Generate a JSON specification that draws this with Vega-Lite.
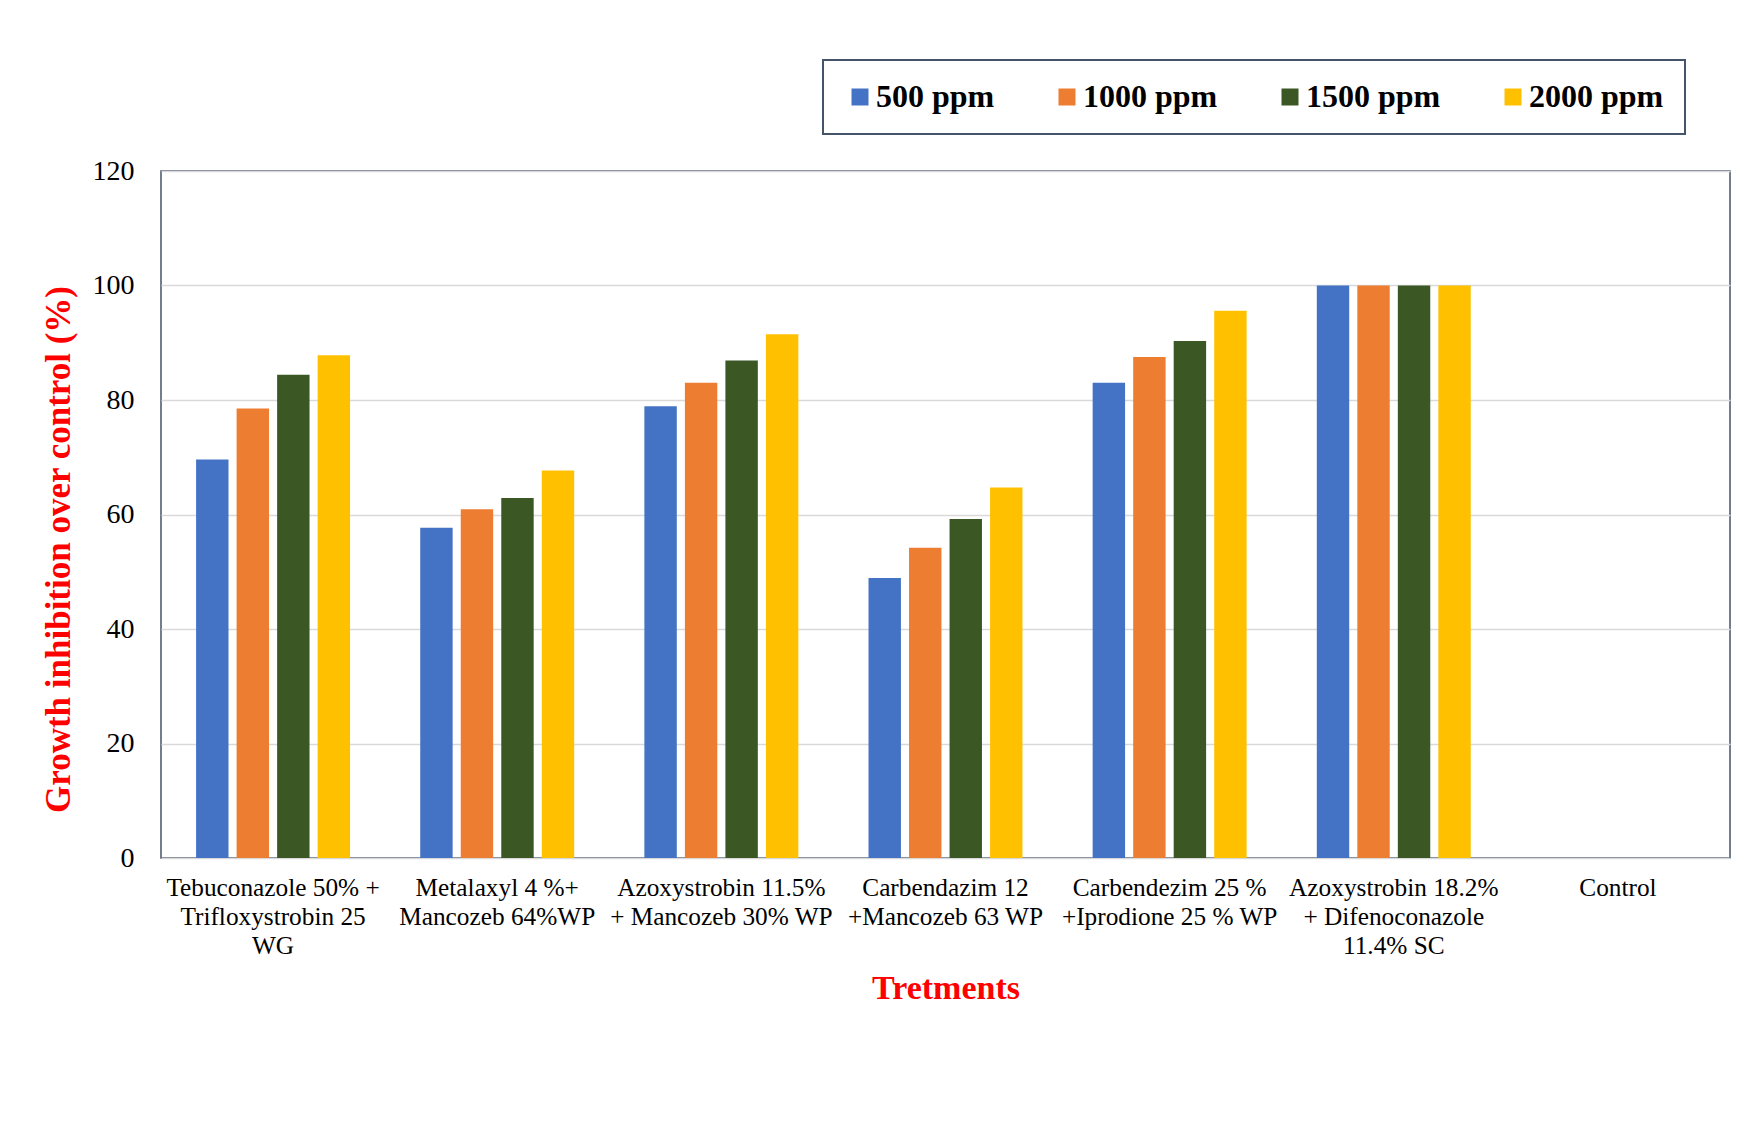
{
  "$schema": "https://vega.github.io/schema/vega-lite/v6.json",
  "autosize": {"type": "none"},
  "width": 1569,
  "height": 687,
  "padding": {"left": 161, "top": 171, "right": 26, "bottom": 274},
  "background": "white",
  "config": {
    "font": "Liberation Serif",
    "view": {"stroke": "#44546A", "strokeWidth": 1.5}
  },
  "data": {
    "values": [
      {"treatment": "Tebuconazole 50% +\nTrifloxystrobin 25\nWG", "dose": "500 ppm", "inhibition": 69.6},
      {"treatment": "Tebuconazole 50% +\nTrifloxystrobin 25\nWG", "dose": "1000 ppm", "inhibition": 78.5},
      {"treatment": "Tebuconazole 50% +\nTrifloxystrobin 25\nWG", "dose": "1500 ppm", "inhibition": 84.4},
      {"treatment": "Tebuconazole 50% +\nTrifloxystrobin 25\nWG", "dose": "2000 ppm", "inhibition": 87.8},
      {"treatment": "Metalaxyl 4 %+\nMancozeb 64%WP", "dose": "500 ppm", "inhibition": 57.7},
      {"treatment": "Metalaxyl 4 %+\nMancozeb 64%WP", "dose": "1000 ppm", "inhibition": 60.9},
      {"treatment": "Metalaxyl 4 %+\nMancozeb 64%WP", "dose": "1500 ppm", "inhibition": 62.9},
      {"treatment": "Metalaxyl 4 %+\nMancozeb 64%WP", "dose": "2000 ppm", "inhibition": 67.7},
      {"treatment": "Azoxystrobin 11.5%\n+ Mancozeb 30% WP", "dose": "500 ppm", "inhibition": 78.9},
      {"treatment": "Azoxystrobin 11.5%\n+ Mancozeb 30% WP", "dose": "1000 ppm", "inhibition": 83.0},
      {"treatment": "Azoxystrobin 11.5%\n+ Mancozeb 30% WP", "dose": "1500 ppm", "inhibition": 86.9},
      {"treatment": "Azoxystrobin 11.5%\n+ Mancozeb 30% WP", "dose": "2000 ppm", "inhibition": 91.5},
      {"treatment": "Carbendazim 12\n+Mancozeb 63 WP", "dose": "500 ppm", "inhibition": 48.9},
      {"treatment": "Carbendazim 12\n+Mancozeb 63 WP", "dose": "1000 ppm", "inhibition": 54.2},
      {"treatment": "Carbendazim 12\n+Mancozeb 63 WP", "dose": "1500 ppm", "inhibition": 59.2},
      {"treatment": "Carbendazim 12\n+Mancozeb 63 WP", "dose": "2000 ppm", "inhibition": 64.7},
      {"treatment": "Carbendezim 25 %\n+Iprodione 25 % WP", "dose": "500 ppm", "inhibition": 83.0},
      {"treatment": "Carbendezim 25 %\n+Iprodione 25 % WP", "dose": "1000 ppm", "inhibition": 87.5},
      {"treatment": "Carbendezim 25 %\n+Iprodione 25 % WP", "dose": "1500 ppm", "inhibition": 90.3},
      {"treatment": "Carbendezim 25 %\n+Iprodione 25 % WP", "dose": "2000 ppm", "inhibition": 95.6},
      {"treatment": "Azoxystrobin 18.2%\n+ Difenoconazole\n11.4%  SC", "dose": "500 ppm", "inhibition": 100},
      {"treatment": "Azoxystrobin 18.2%\n+ Difenoconazole\n11.4%  SC", "dose": "1000 ppm", "inhibition": 100},
      {"treatment": "Azoxystrobin 18.2%\n+ Difenoconazole\n11.4%  SC", "dose": "1500 ppm", "inhibition": 100},
      {"treatment": "Azoxystrobin 18.2%\n+ Difenoconazole\n11.4%  SC", "dose": "2000 ppm", "inhibition": 100},
      {"treatment": "Control", "dose": "500 ppm", "inhibition": 0},
      {"treatment": "Control", "dose": "1000 ppm", "inhibition": 0},
      {"treatment": "Control", "dose": "1500 ppm", "inhibition": 0},
      {"treatment": "Control", "dose": "2000 ppm", "inhibition": 0}
    ]
  },
  "mark": {"type": "bar"},
  "encoding": {
    "x": {
      "field": "treatment",
      "type": "nominal",
      "sort": null,
      "scale": {"paddingInner": 0, "paddingOuter": 0},
      "axis": {
        "title": "Tretments",
        "titleFont": "Liberation Serif",
        "titleFontSize": 34,
        "titleFontWeight": "bold",
        "titleColor": "#FF0000",
        "titlePadding": 13,
        "labelExpr": "split(datum.value, '\\n')",
        "labelAngle": 0,
        "labelFontSize": 25.3,
        "labelLineHeight": 29.2,
        "labelColor": "black",
        "labelLimit": 400,
        "labelPadding": 17,
        "ticks": false,
        "domain": false
      }
    },
    "xOffset": {
      "field": "dose",
      "type": "nominal",
      "sort": ["500 ppm", "1000 ppm", "1500 ppm", "2000 ppm"],
      "scale": {"paddingInner": 0.2, "paddingOuter": 0.866}
    },
    "y": {
      "field": "inhibition",
      "type": "quantitative",
      "scale": {"domain": [0, 120], "nice": false},
      "axis": {
        "title": "Growth inhibition over control (%)",
        "titleFont": "Liberation Serif",
        "titleFontSize": 35,
        "titleFontWeight": "bold",
        "titleColor": "#FF0000",
        "titlePadding": 16,
        "titleY": 378,
        "values": [0, 20, 40, 60, 80, 100, 120],
        "labelFontSize": 28,
        "labelColor": "black",
        "labelPadding": 27,
        "ticks": false,
        "domain": false,
        "gridColor": "#D9D9D9",
        "gridWidth": 1.6
      }
    },
    "color": {
      "field": "dose",
      "type": "nominal",
      "sort": ["500 ppm", "1000 ppm", "1500 ppm", "2000 ppm"],
      "scale": {
        "domain": ["500 ppm", "1000 ppm", "1500 ppm", "2000 ppm"],
        "range": ["#4472C4", "#ED7D31", "#3A5724", "#FFC000"]
      },
      "legend": {
        "title": null,
        "orient": "none",
        "direction": "horizontal",
        "legendX": 662,
        "legendY": -111,
        "symbolType": "square",
        "symbolSize": 289,
        "symbolStrokeWidth": 0,
        "labelFont": "Liberation Serif",
        "labelFontSize": 32,
        "labelFontWeight": "bold",
        "labelColor": "black",
        "labelOffset": 0,
        "columnPadding": 56,
        "padding": 21,
        "strokeColor": "#44546A",
        "fillColor": "white",
        "encode": {
          "legend": {"update": {"strokeWidth": {"value": 2}}}
        }
      }
    }
  }
}
